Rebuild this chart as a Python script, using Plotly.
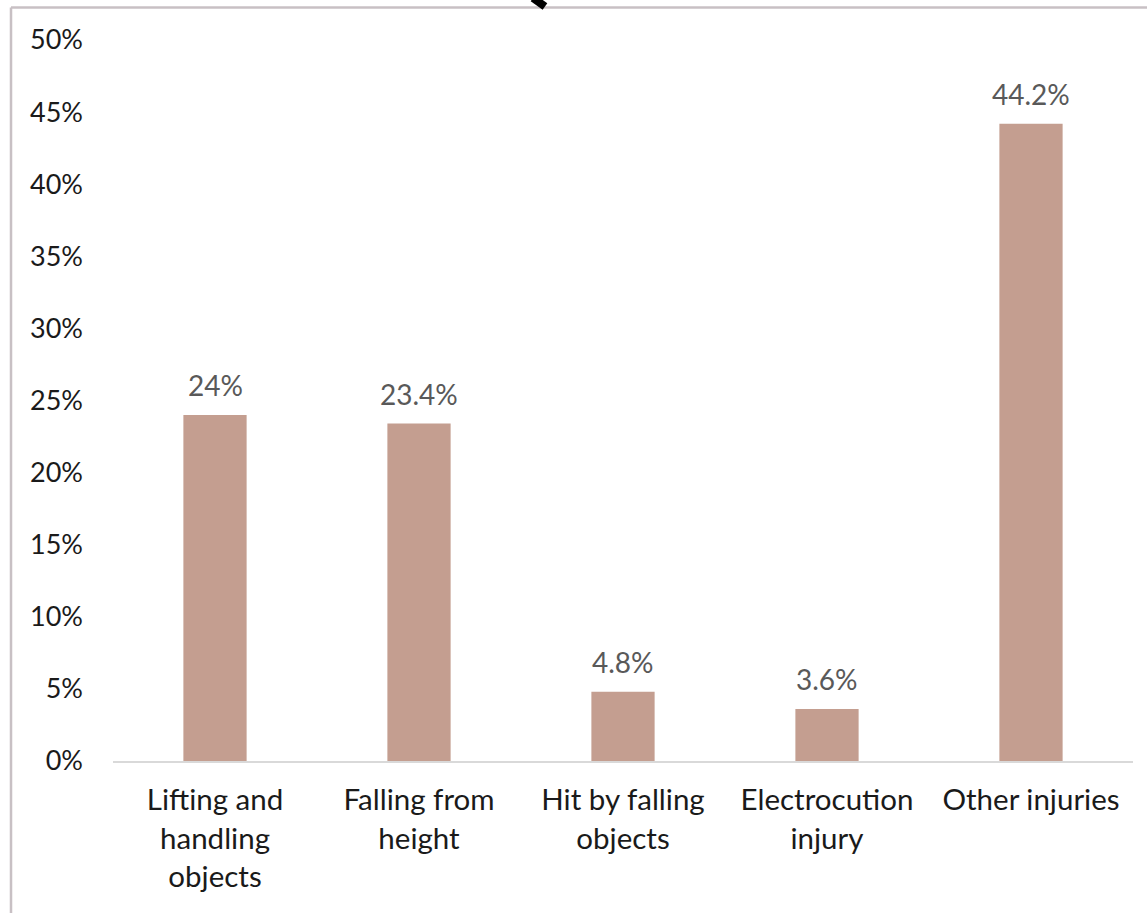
import plotly.graph_objects as go

categories = ["Lifting and<br>handling<br>objects", "Falling from<br>height", "Hit by falling<br>objects", "Electrocution<br>injury", "Other injuries"]
values = [0.24, 0.234, 0.048, 0.036, 0.442]
value_labels = ["24%", "23.4%", "4.8%", "3.6%", "44.2%"]
y_ticks = [0, 0.05, 0.10, 0.15, 0.20, 0.25, 0.30, 0.35, 0.40, 0.45, 0.50]
y_tick_labels = ["0%", "5%", "10%", "15%", "20%", "25%", "30%", "35%", "40%", "45%", "50%"]

FONT = "Lato"

fig = go.Figure(go.Bar(
    x=categories, y=values,
    marker=dict(color="#C49E90", line=dict(width=0)),
    width=0.31,
    hoverinfo="x+y",
))

for cat, val, lab in zip(categories, values, value_labels):
    fig.add_annotation(
        x=cat, y=val, text=lab, showarrow=False,
        yanchor="bottom", yshift=11,
        font=dict(family=FONT, size=28, color="#595959"),
    )

fig.update_layout(
    width=1147, height=913,
    margin=dict(l=113, r=14, t=40, b=152),
    paper_bgcolor="white", plot_bgcolor="white",
    showlegend=False,
    font=dict(family=FONT, size=27, color="#1a1a1a"),
    bargap=0.69,
    shapes=[
        dict(type="line", xref="paper", yref="paper", x0=-0.1, x1=-0.1, y0=-0.22, y1=1.0451,
             line=dict(color="#C8C0C4", width=2.5)),
        dict(type="line", xref="paper", yref="paper", x0=-0.1, x1=1.02, y0=1.0451, y1=1.0451,
             line=dict(color="#C8C0C4", width=2.5)),
        dict(type="line", xref="paper", yref="paper", x0=0.4118, x1=0.4235, y0=1.0583, y1=1.0465,
             line=dict(color="black", width=8)),
    ],
)
fig.update_xaxes(
    showline=True, linecolor="#D9D9D9", linewidth=2,
    ticks="", showgrid=False,
    tickfont=dict(family=FONT, size=29.5, color="#1a1a1a"),
    ticklabelstandoff=12,
)
fig.update_yaxes(
    range=[0, 0.5], tickvals=y_ticks, ticktext=y_tick_labels,
    showgrid=False, showline=False, zeroline=False, ticks="",
    tickfont=dict(family=FONT, size=27, color="#1a1a1a"),
    ticklabelstandoff=29,
)

fig.write_html("out.html", config={"displayModeBar": False},
               post_script="document.body.style.margin='0';document.body.style.overflow='hidden';")
